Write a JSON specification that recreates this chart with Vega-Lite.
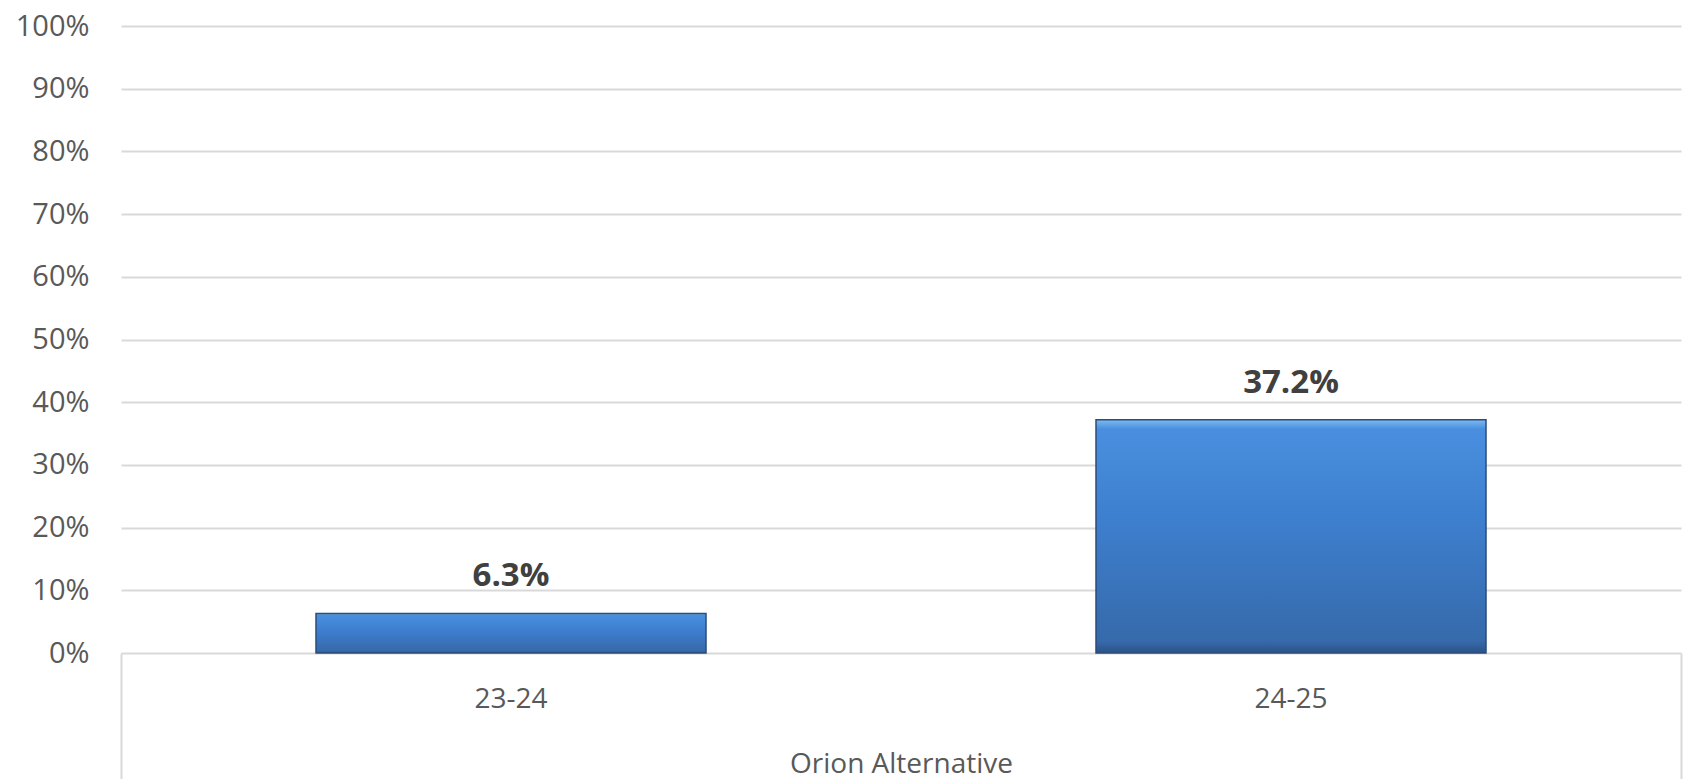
{
  "$schema": "https://vega.github.io/schema/vega-lite/v6.json",
  "autosize": {"type": "none"},
  "width": 1560,
  "height": 627,
  "padding": {"left": 121, "top": 26, "right": 2, "bottom": 126},
  "background": "white",
  "config": {"view": {"stroke": null}, "font": "Open Sans"},
  "data": {
    "values": [
      {"group": "Orion Alternative", "year": "23-24", "share": 0.063},
      {"group": "Orion Alternative", "year": "24-25", "share": 0.372}
    ]
  },
  "layer": [
    {
      "layer": [
        {
          "mark": {
            "type": "bar",
            "fill": {
              "gradient": "linear",
              "x1": 0, "y1": 0, "x2": 0, "y2": 1,
              "stops": [
                {"offset": 0, "color": "#7cbaf2"},
                {"offset": 0.04, "color": "#4a8fdf"},
                {"offset": 0.4, "color": "#3e80d0"},
                {"offset": 0.95, "color": "#366aab"},
                {"offset": 1, "color": "#2b5288"}
              ]
            },
            "stroke": "#2b4c7a",
            "strokeWidth": 1.5
          },
          "encoding": {
            "x": {
              "field": "year",
              "type": "nominal",
              "scale": {"paddingInner": 0.5, "paddingOuter": 0.25},
              "axis": {
                "title": null,
                "ticks": false,
                "domain": false,
                "labelAngle": 0,
                "labelFontSize": 28,
                "labelColor": "#595959",
                "labelPadding": 54,
                "labelBaseline": "alphabetic"
              }
            },
            "y": {
              "field": "share",
              "type": "quantitative",
              "scale": {"domain": [0, 1], "nice": false},
              "axis": {
                "title": null,
                "format": ".0%",
                "values": [0, 0.1, 0.2, 0.3, 0.4, 0.5, 0.6, 0.7, 0.8, 0.9, 1],
                "domain": false,
                "ticks": false,
                "labelPadding": 32,
                "labelFontSize": 29,
                "labelColor": "#595959",
                "gridColor": "#d9d9d9",
                "gridWidth": 2
              }
            }
          }
        },
        {
          "mark": {
            "type": "text",
            "fontWeight": "bold",
            "fontSize": 33,
            "color": "#404040",
            "baseline": "alphabetic",
            "dy": -27
          },
          "encoding": {
            "x": {"field": "year", "type": "nominal"},
            "y": {"field": "share", "type": "quantitative"},
            "text": {"field": "share", "type": "quantitative", "format": ".1%"}
          }
        }
      ]
    },
    {
      "mark": {"type": "rule", "opacity": 0},
      "encoding": {
        "x": {
          "field": "group",
          "type": "nominal",
          "scale": {"paddingInner": 0, "paddingOuter": 0},
          "axis": {
            "orient": "bottom",
            "title": null,
            "tickBand": "extent",
            "tickSize": 126,
            "tickColor": "#d9d9d9",
            "tickWidth": 2,
            "domain": false,
            "grid": false,
            "labelAngle": 0,
            "labelLimit": 0,
            "labelFontSize": 28,
            "labelColor": "#595959",
            "labelPadding": -7,
            "labelBaseline": "alphabetic"
          }
        }
      }
    }
  ],
  "resolve": {"scale": {"x": "independent"}, "axis": {"x": "independent"}}
}
